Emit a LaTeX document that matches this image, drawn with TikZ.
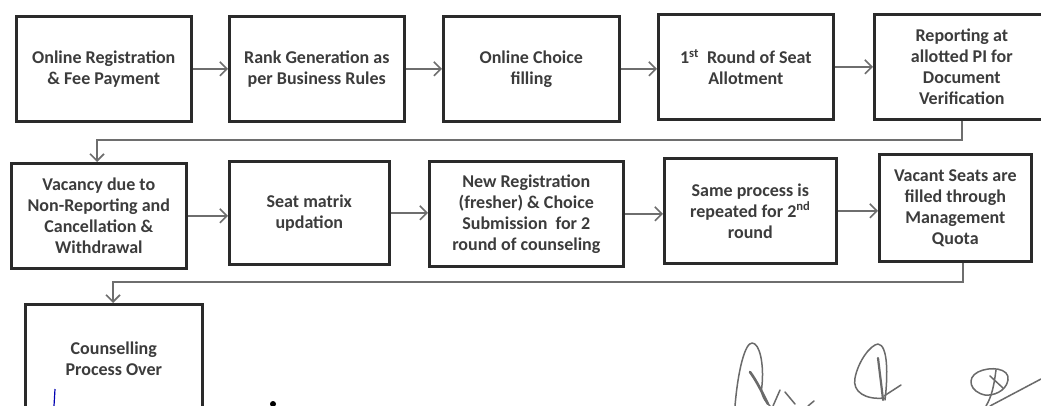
\documentclass[tikz,border=0pt]{standalone}
\usepackage{fontspec}
\setmainfont{Carlito}
\usetikzlibrary{arrows.meta}
\definecolor{ink}{HTML}{2A2A2A}
\definecolor{txt}{HTML}{3C3C3C}
\definecolor{arr}{HTML}{6E6E6E}
\definecolor{sig}{HTML}{6A6A6A}
\begin{document}
\begin{tikzpicture}[x=1pt,y=-1pt,
  box/.style={draw=ink, line width=2.6pt, fill=white, align=center,
    font=\bfseries\fontsize{18}{21}\selectfont, text=txt, inner sep=0pt,
    anchor=north west},
  flow/.style={draw=arr, line width=1.6pt, -{Straight Barb[length=7pt,width=14pt,line width=1.6pt]}},
  signature/.style={draw=sig, line width=1.5pt, line cap=round, line join=round}]
\useasboundingbox (0,0) rectangle (1041,406);
\fill[white] (0,0) rectangle (1041,406);
% row 1
\node[box, minimum width=175pt, minimum height=105pt] (b1) at (15,15) {Online Registration\\\& Fee Payment};
\node[box, minimum width=175pt, minimum height=105pt] (b2) at (228,15) {Rank Generation as\\per Business Rules};
\node[box, minimum width=176pt, minimum height=105pt] (b3) at (442,15) {Online Choice\\filling};
\node[box, minimum width=175pt, minimum height=105pt] (b4) at (657,13) {1\textsuperscript{st}~ Round of Seat\\Allotment};
\node[box, minimum width=175pt, minimum height=105pt] (b5) at (873,13) {Reporting at\\allotted PI for\\Document\\Verification};
% row 2
\node[box, minimum width=175pt, minimum height=105pt] (b6) at (10,162) {Vacancy due to\\Non-Reporting and\\Cancellation \&\\Withdrawal};
\node[box, minimum width=160pt, minimum height=103pt] (b7) at (228,160) {Seat matrix\\updation};
\node[box, minimum width=194pt, minimum height=105pt] (b8) at (428,160) {New Registration\\(fresher) \& Choice\\Submission~ for 2\\round of counseling};
\node[box, minimum width=172pt, minimum height=105pt] (b9) at (663,157) {Same process is\\repeated for 2\textsuperscript{nd}\\round};
\node[box, minimum width=152pt, minimum height=107pt] (b10) at (878,153) {Vacant Seats are\\filled through\\Management\\Quota};
% row 3
\node[box, minimum width=177pt, minimum height=108pt] (b11) at (24,303) {Counselling\\Process Over};
% connectors row 1
\draw[flow] (b1.east) -- (b1.east -| b2.west);
\draw[flow] (b2.east) -- (b2.east -| b3.west);
\draw[flow] (b3.east) -- (b3.east -| b4.west);
\draw[flow] (b4.east) -- (b4.east -| b5.west);
% return to row 2
\coordinate (r1) at (962,140);
\coordinate (l1) at (97,140);
\draw[flow] (b5.south -| r1) -- (r1) -- (l1) -- (b6.north -| l1);
% connectors row 2
\draw[flow] (b6.east) -- (b6.east -| b7.west);
\draw[flow] (b7.east) -- (b7.east -| b8.west);
\draw[flow] (b8.east) -- (b8.east -| b9.west);
\draw[flow] (b9.east) -- (b9.east -| b10.west);
% return to row 3
\coordinate (r2) at (963,282);
\coordinate (l2) at (113,282);
\draw[flow] (b10.south -| r2) -- (r2) -- (l2) -- (b11.north -| l2);
% hand marks
\draw[blue!70!black, line width=1.2pt] (55,389) -- (54,406);
\fill[black] (273,404) circle (3pt);
% signatures
\draw[signature] (735,406) .. controls (738,370) and (745,343) .. (752,343) .. controls (760,343) and (764,365) .. (762,385) .. controls (760,396) and (766,402) .. (770,406);
\draw[signature, line width=2.6pt] (750,372) .. controls (756,380) and (762,392) .. (768,404);
\draw[signature] (780,390) -- (773,406);
\draw[signature] (785,392) -- (795,404);
\draw[signature] (814,401) -- (808,406);
\draw[signature] (884,398) .. controls (866,400) and (852,392) .. (855,378) .. controls (858,362) and (870,345) .. (878,344) .. controls (888,345) and (888,375) .. (885,400);
\draw[signature, line width=2.2pt] (878,358) .. controls (880,375) and (882,390) .. (883,400);
\draw[signature] (884,396) -- (901,385);
\draw[signature] (985,395) .. controls (970,392) and (966,378) .. (978,372) .. controls (990,366) and (1010,368) .. (1008,380) .. controls (1006,392) and (992,396) .. (985,395);
\draw[signature] (996,370) .. controls (994,385) and (992,396) .. (986,406);
\draw[signature] (990,406) -- (1041,379);
\draw[signature] (990,376) -- (1003,388);
\end{tikzpicture}
\end{document}
